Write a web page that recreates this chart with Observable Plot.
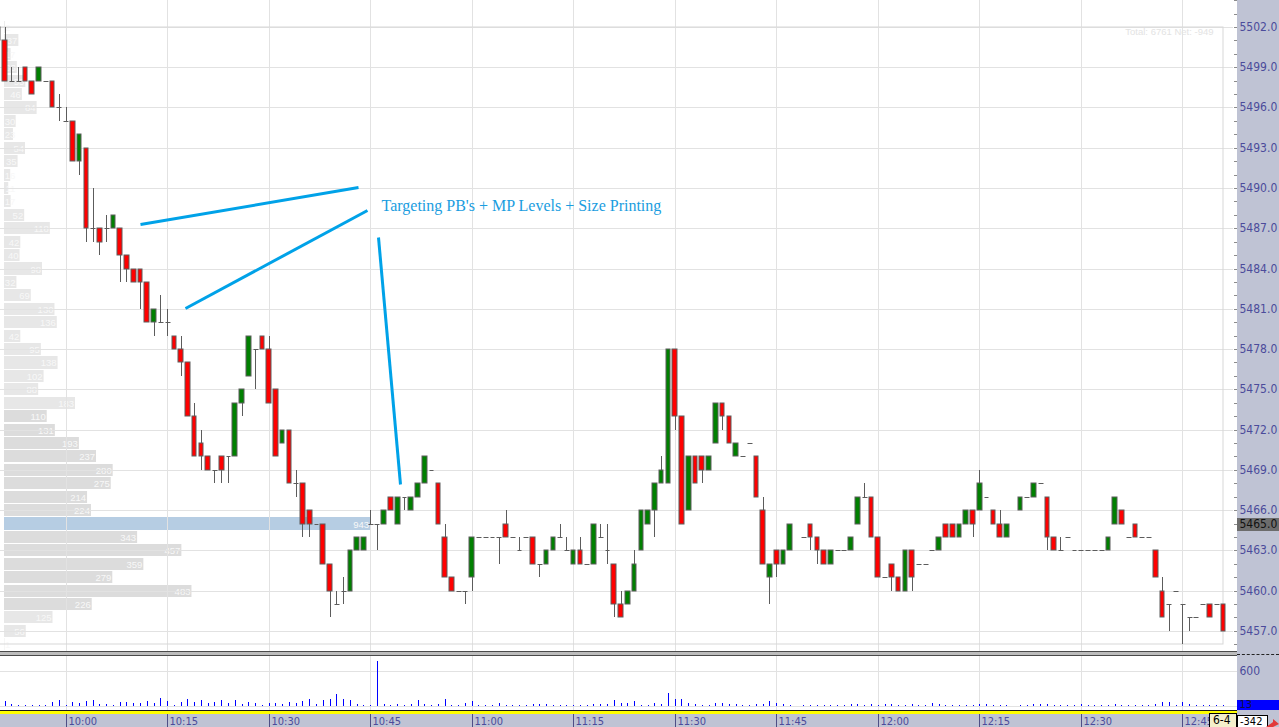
<!DOCTYPE html>
<html><head><meta charset="utf-8">
<script src="https://cdn.jsdelivr.net/npm/d3@7"></script>
<script src="https://cdn.jsdelivr.net/npm/@observablehq/plot@0.6"></script>
<style>
body{margin:0;background:#fff;}
#chart{position:relative;width:1279px;height:727px;overflow:hidden;background:#fff;}
#chart > *{position:absolute;}
</style></head><body><div id="chart"></div>
<script>
// ---------- data (1-minute bars) ----------
const times = [
"9:50","9:51","9:52","9:53","9:54","9:55","9:56","9:57","9:58","9:59",
"10:00","10:01","10:02","10:03","10:04","10:05","10:06","10:07","10:08","10:09",
"10:10","10:11","10:12","10:13","10:14","10:15","10:16","10:17","10:18","10:19",
"10:20","10:21","10:22","10:23","10:24","10:25","10:26","10:27","10:28","10:29",
"10:30","10:31","10:32","10:33","10:34","10:35","10:36","10:37","10:38","10:39",
"10:40","10:41","10:42","10:43","10:44","10:45","10:46","10:47","10:48","10:49",
"10:50","10:51","10:52","10:53","10:54","10:55","10:56","10:57","10:58","10:59",
"11:00","11:01","11:02","11:03","11:04","11:05","11:06","11:07","11:08","11:09",
"11:10","11:11","11:12","11:13","11:14","11:15","11:16","11:17","11:18","11:19",
"11:20","11:21","11:22","11:23","11:24","11:25","11:26","11:27","11:28","11:29",
"11:30","11:31","11:32","11:33","11:34","11:35","11:36","11:37","11:38","11:39",
"11:40","11:41","11:42","11:43","11:44","11:45","11:46","11:47","11:49",
"11:50","11:51","11:52","11:53","11:54","11:55","11:56","11:57","11:58","11:59",
"12:00","12:01","12:02","12:03","12:04","12:05","12:06","12:07","12:08","12:09",
"12:10","12:11","12:12","12:13","12:14","12:15","12:16","12:17","12:18","12:19",
"12:21","12:22","12:23","12:24","12:25","12:26","12:27","12:28","12:29",
"12:30","12:31","12:32","12:33","12:34","12:35","12:36","12:37","12:38","12:39",
"12:40","12:41","12:42","12:43","12:44","12:45","12:46","12:47","12:48","12:49","12:50","12:51"];
const open = [
5502,5501,5498,5498,5499,5498,5498,5498,5498,5496,
5495,5495,5492,5493,5487,5487,5487,5487,5487,5485,
5484,5484,5483,5480,5480,5480,5479,5478,5477,5473,
5471,5470,5469,5470,5470,5470,5474,5476,5478,5479,
5478,5475,5471,5472,5468,5468,5466,5465,5465,5462,
5459,5460,5460,5463,5463,5465,5465,5465,5467,5465,
5467,5466,5467,5468,5469,5468,5464,5461,5460,5460,
5461,5464,5464,5464,5464,5465,5464,5463,5464,5464,
5462,5462,5463,5464,5463,5462,5463,5462,5462,5464,
5463,5462,5459,5459,5460,5463,5465,5466,5468,5468,
5478,5473,5466,5470,5470,5469,5471,5474,5473,5470,
5470,5471,5470,5466,5461,5463,5462,5463,5464,
5465,5464,5463,5462,5463,5463,5463,5465,5467,5467,
5464,5461,5462,5461,5460,5463,5462,5462,5463,5463,
5465,5465,5464,5465,5466,5466,5467,5466,5465,5464,
5466,5467,5467,5468,5467,5464,5463,5464,5463,
5463,5463,5463,5463,5463,5465,5466,5464,5465,5464,
5464,5463,5460,5459,5460,5459,5458,5458,5459,5459,5459,5459];
const high = [
5502,5502,5499,5499,5499,5498,5499,5498,5498,5497,
5496,5495,5494,5493,5490,5487,5488,5488,5487,5485,
5484,5484,5483,5481,5482,5481,5479,5479,5477,5474,
5472,5470,5469,5470,5470,5474,5475,5479,5478,5479,
5479,5475,5472,5472,5469,5468,5466,5465,5465,5462,
5460,5461,5463,5464,5464,5466,5465,5466,5467,5467,
5467,5467,5468,5470,5469,5468,5465,5461,5460,5460,
5464,5464,5464,5464,5464,5466,5464,5464,5464,5464,
5462,5463,5464,5465,5464,5463,5464,5462,5465,5465,
5465,5462,5460,5460,5463,5466,5466,5468,5470,5478,
5478,5473,5470,5470,5470,5470,5474,5474,5473,5471,
5470,5471,5470,5467,5462,5463,5463,5465,5464,
5465,5464,5463,5463,5463,5463,5464,5467,5468,5467,
5464,5461,5462,5461,5463,5463,5462,5462,5463,5464,
5465,5465,5465,5466,5466,5469,5467,5466,5466,5465,
5467,5467,5468,5468,5467,5464,5464,5464,5463,
5463,5463,5463,5463,5464,5467,5466,5464,5465,5464,
5464,5463,5461,5459,5460,5459,5458,5458,5459,5459,5459,5459];
const low = [
5501,5498,5498,5498,5498,5497,5498,5498,5496,5495,
5495,5492,5491,5486,5486,5485,5486,5487,5483,5483,
5483,5481,5480,5479,5480,5479,5478,5476,5473,5470,
5469,5469,5468,5468,5468,5470,5473,5476,5475,5478,
5474,5470,5471,5468,5467,5464,5464,5465,5462,5458,
5459,5459,5460,5463,5463,5465,5463,5465,5466,5465,
5466,5466,5467,5468,5469,5465,5461,5460,5460,5459,
5460,5464,5464,5464,5462,5464,5464,5463,5464,5462,
5461,5462,5463,5464,5463,5462,5462,5462,5462,5464,
5462,5458,5458,5459,5460,5463,5465,5464,5468,5468,
5472,5465,5466,5468,5468,5469,5471,5472,5471,5470,
5470,5471,5467,5462,5459,5461,5462,5463,5464,
5463,5462,5462,5462,5463,5463,5463,5465,5467,5464,
5461,5461,5460,5460,5460,5460,5462,5462,5463,5463,
5464,5464,5464,5465,5464,5466,5467,5465,5464,5464,
5466,5467,5467,5468,5463,5463,5463,5464,5463,
5463,5463,5463,5463,5463,5465,5465,5464,5464,5464,
5464,5461,5458,5457,5460,5456,5457,5458,5459,5458,5459,5457];
const close = [
5501,5498,5498,5498,5498,5497,5499,5498,5496,5496,
5495,5492,5494,5487,5487,5486,5487,5488,5485,5484,
5483,5483,5480,5481,5480,5480,5478,5477,5473,5470,
5470,5469,5469,5469,5470,5474,5475,5479,5478,5478,
5474,5470,5472,5468,5468,5465,5465,5465,5462,5460,
5459,5460,5463,5464,5464,5465,5465,5466,5466,5467,
5467,5467,5468,5470,5469,5465,5461,5460,5460,5460,
5464,5464,5464,5464,5464,5464,5464,5463,5464,5462,
5462,5463,5464,5464,5463,5463,5462,5462,5465,5464,
5463,5459,5458,5460,5462,5466,5466,5468,5469,5478,
5473,5465,5470,5468,5469,5470,5474,5473,5471,5471,
5470,5471,5467,5462,5462,5462,5463,5465,5464,
5464,5463,5462,5463,5463,5463,5464,5467,5467,5464,
5461,5461,5461,5460,5463,5461,5462,5462,5463,5464,
5464,5464,5465,5466,5465,5468,5467,5465,5464,5465,
5467,5467,5468,5468,5464,5463,5463,5464,5463,
5463,5463,5463,5463,5464,5467,5465,5464,5464,5464,
5464,5461,5458,5459,5460,5459,5458,5458,5459,5458,5459,5457];
const volume = [
40,80,29,17,17,17,17,17,63,97,
17,63,51,80,97,29,29,17,63,63,
40,51,80,51,131,80,17,63,114,63,
97,51,63,97,51,97,29,63,51,17,
51,51,29,63,51,80,114,29,97,114,
200,114,97,29,17,17,766,29,17,29,
17,29,97,29,17,29,114,17,17,51,
80,17,17,17,51,17,17,17,17,29,
29,29,17,17,17,17,17,17,29,29,
29,97,51,51,80,17,17,51,29,217,
114,114,51,29,17,17,51,51,29,29,
17,17,29,29,80,40,29,17,17,
17,17,17,17,17,17,29,29,17,29,
17,29,29,17,17,29,17,5,46,29,
17,17,17,17,17,29,29,17,17,17,
17,17,29,29,29,17,17,17,17,
29,17,17,17,17,29,17,17,17,17,
5,29,63,63,17,63,29,17,17,17,17,13];

// volume profile (price level -> contracts)
const profilePrices = [5502,5501,5500,5499,5498,5497,5496,5495,5494,5493,5492,5491,5490,5489,5488,5487,5486,5485,5484,5483,5482,5481,5480,5479,5478,5477,5476,5475,5474,5473,5472,5471,5470,5469,5468,5467,5466,5465,5464,5463,5462,5461,5460,5459,5458,5457,5456];
const profileVolumes = [2,37,17,33,55,46,84,30,23,54,35,16,11,17,52,118,42,40,98,32,69,130,136,42,95,138,102,88,183,110,131,193,237,280,275,214,224,943,343,457,359,279,483,226,125,56,1];
const valueAreaHigh = 5473, valueAreaLow = 5459;
const netDelta = -949;
const deltaReadout = "-342";
const dateReadout = "6-4";

// axis tick labels
const priceTicks = [5502,5499,5496,5493,5490,5487,5484,5481,5478,5475,5472,5469,5466,5463,5460,5457];
const timeTicks = ["10:00","10:15","10:30","10:45","11:00","11:15","11:30","11:45","12:00","12:15","12:30","12:45"];
const volumeTicks = [600];

// annotation (minutes of day, price)
const annoX1 = [611.0, 617.64, 646.16], annoY1 = [5487.32, 5481.06, 5486.35];
const annoX2 = [643.21, 644.54, 649.41], annoY2 = [5490.08, 5488.37, 5467.95];
const annoText = "Targeting PB's + MP Levels + Size Printing";
const annoTextAt = [646.55, 5488.7];

// ---------- build ----------
const toMin = s => { const [h, m] = s.split(":").map(Number); return h * 60 + m; };
const candles = times.map((s, k) => ({t: toMin(s), o: open[k], h: high[k], l: low[k], c: close[k], v: volume[k]}));
const profile = profilePrices.map((p, k) => ({p, v: profileVolumes[k]}));
const poc = d3.greatest(profile, d => d.v).p;

const FONT = '"DejaVu Sans Condensed","Liberation Sans",Arial,sans-serif';
const GRID = "#e2e2e2";
const EDGE = "#5c5c5c";
const AXIS_TXT = "#4b4b9b";
const xOpt = {domain: [590.31, 773.08], range: [0, 1237], round: true, axis: null};
const yOpt = {domain: [5504.01, 5455.5], range: [0, 651], round: true};

const chart = document.getElementById("chart");
function place(el, left, top) { el.style.left = left + "px"; el.style.top = top + "px"; chart.appendChild(el); return el; }
function div(left, top, w, h, css, html) { const d = document.createElement("div"); d.style.cssText = `width:${w}px;height:${h}px;box-sizing:border-box;${css}`; if (html) d.innerHTML = html; return place(d, left, top); }

// 1. volume profile (under everything)
const profX = {domain: [0, d3.max(profileVolumes)], range: [4, 370]};
const pxScale = Plot.scale({x: profX});
place(Plot.plot({
  width: 1237, height: 651, margin: 0,
  style: {background: "transparent", fontFamily: FONT},
  x: {...profX, axis: null}, y: {...yOpt, axis: null},
  marks: [
    Plot.rect(profile, {x1: 0, x2: "v", y1: d => d.p - 0.45, y2: d => d.p + 0.45,
      fill: d => d.p === poc ? "#b6cde3" : (d.p <= valueAreaHigh && d.p >= valueAreaLow ? "#dcdcdc" : "#e7e7e7")}),
    Plot.text(profile, {x: d => Math.max(d.v, pxScale.invert(6 + 5.2 * String(d.v).length)), y: "p", text: d => String(d.v),
      textAnchor: "end", dx: -1.5, fill: "#f8f8f8", fontSize: 9.5, fontFamily: "Liberation Sans, Arial, sans-serif"})
  ]
}), 0, 0);

// 2. price panel
const bodies = candles.filter(d => d.o !== d.c);
const dojis = candles.filter(d => d.o === d.c);
const wicks = candles.filter(d => d.h > d.l);
const anno = annoX1.map((x, k) => ({x1: x, y1: annoY1[k], x2: annoX2[k], y2: annoY2[k]}));
place(Plot.plot({
  width: 1237, height: 651, margin: 0, marginRight: 4,
  style: {background: "transparent", color: "#8c8c8c", fontFamily: FONT},
  x: xOpt,
  y: {...yOpt, axis: "right", ticks: d3.range(5456, 5505), tickSize: 4, tickFormat: () => "", label: null},
  marks: [
    Plot.ruleY(priceTicks, {stroke: GRID}),
    Plot.ruleX(timeTicks, {x: toMin, stroke: GRID}),
    Plot.rect([0], {x1: candles[0].t, x2: candles[candles.length - 1].t, y1: d3.min(profilePrices), y2: d3.max(profilePrices), fill: "none", stroke: "#d7d7d7"}),
    Plot.text([`Total: ${d3.sum(profileVolumes)} Net: ${netDelta}`], {frameAnchor: "top-right", dx: -20, dy: 28, lineAnchor: "top", fill: "#e3e3e3", fontSize: 9.5, fontFamily: "Liberation Sans, Arial, sans-serif"}),
    Plot.ruleX(wicks, {x: "t", y1: "l", y2: "h", stroke: EDGE}),
    Plot.rect(bodies, {x1: d => d.t - 0.34, x2: d => d.t + 0.34, y1: "o", y2: "c", fill: d => d.c > d.o ? "#008000" : "#ff0000", stroke: EDGE}),
    Plot.link(dojis, {x1: d => d.t - 0.36, x2: d => d.t + 0.36, y1: "o", y2: "o", stroke: EDGE}),
    Plot.link(anno, {x1: "x1", y1: "y1", x2: "x2", y2: "y2", stroke: "#00a2e8", strokeWidth: 3}),
    Plot.text([annoText], {x: annoTextAt[0], y: annoTextAt[1], textAnchor: "start", fill: "#1a9de0", fontSize: 16, fontFamily: '"Liberation Serif","Times New Roman",serif'})
  ]
}), 0, 0);

// 3. panel separator
div(0, 651, 1237, 5, "border-top:1px solid #4a4a4a;border-bottom:1px solid #4a4a4a;background:#bcbcbc;");

// 4. volume panel
place(Plot.plot({
  width: 1237, height: 54, margin: 0,
  style: {background: "transparent", fontFamily: FONT},
  x: xOpt, y: {domain: [-73.7, 852], range: [54, 0], round: true, axis: null},
  marks: [
    Plot.ruleX(timeTicks, {x: toMin, stroke: GRID}),
    Plot.ruleY([...volumeTicks, 0], {stroke: GRID}),
    Plot.ruleX(candles, {x: "t", y1: 0, y2: "v", stroke: "#0000ff"})
  ]
}), 0, 656);

// 5. bottom strips
div(0, 710, 1237, 1, "background:#1a1a1a;");
div(0, 711, 1237, 3, "background:#ffff00;");
div(0, 714, 1237, 13, "background:#bfc3d4;");
div(1237, 0, 42, 727, "background:#bfc3d4;");
div(1237, 654, 42, 1, "border-top:1px dashed #222;");

// 6. price axis labels
place(Plot.plot({
  width: 42, height: 651, margin: 0,
  style: {background: "transparent", fontFamily: FONT},
  y: {...yOpt, axis: null},
  marks: [
    Plot.ruleY([poc], {stroke: "#6c6c6c", strokeWidth: 13}),
    Plot.text(priceTicks, {y: d => d, text: d => d.toFixed(1), frameAnchor: "left", dx: 2, fill: AXIS_TXT, fontSize: 12, fontFamily: FONT}),
    Plot.text([poc], {y: d => d, text: d => d.toFixed(1), frameAnchor: "left", dx: 2, fill: "#111", fontSize: 12, fontFamily: FONT})
  ]
}), 1237, 0);

// 7. volume axis labels
const lastVol = volume[volume.length - 1];
place(Plot.plot({
  width: 42, height: 54, margin: 0,
  style: {background: "transparent", fontFamily: FONT},
  y: {domain: [-73.7, 852], range: [54, 0], axis: null},
  marks: [
    Plot.ruleY([lastVol], {stroke: "#0000ff", strokeWidth: 11}),
    Plot.text([lastVol], {y: d => d, text: d => String(d), frameAnchor: "left", dx: 2, dy: -0.5, fill: "#10103a", fontSize: 11, fontFamily: FONT}),
    Plot.text(volumeTicks, {y: d => d, text: d => String(d), frameAnchor: "left", dx: 2, fill: AXIS_TXT, fontSize: 12, fontFamily: FONT})
  ]
}), 1237, 656);

// 8. time axis
place(Plot.plot({
  width: 1237, height: 13, margin: 0,
  style: {background: "transparent", fontFamily: FONT},
  x: xOpt,
  marks: [
    Plot.ruleX(timeTicks, {x: toMin, stroke: "#4e4e86"}),
    Plot.text(timeTicks, {x: toMin, text: d => d, textAnchor: "start", dx: 2, fill: AXIS_TXT, fontSize: 11, fontFamily: FONT})
  ]
}), 0, 714);

// 9. corner boxes
div(1209, 713, 28, 14, `background:#f4efcb;border:1px solid #000;border-bottom:none;font:12px ${FONT};line-height:13px;padding-left:3px;color:#000;`, dateReadout);
div(1237, 715, 31, 12, `background:#fff;border:1px solid #000;border-bottom:none;font:11px ${FONT};line-height:11px;padding-left:2px;color:#000;`, deltaReadout);
div(1266, 713, 13, 8, "", '<svg width="13" height="8"><polygon points="0,8 7,3 7,0 13,5 7,8" fill="#e23a3a"/></svg>');
</script></body></html>
